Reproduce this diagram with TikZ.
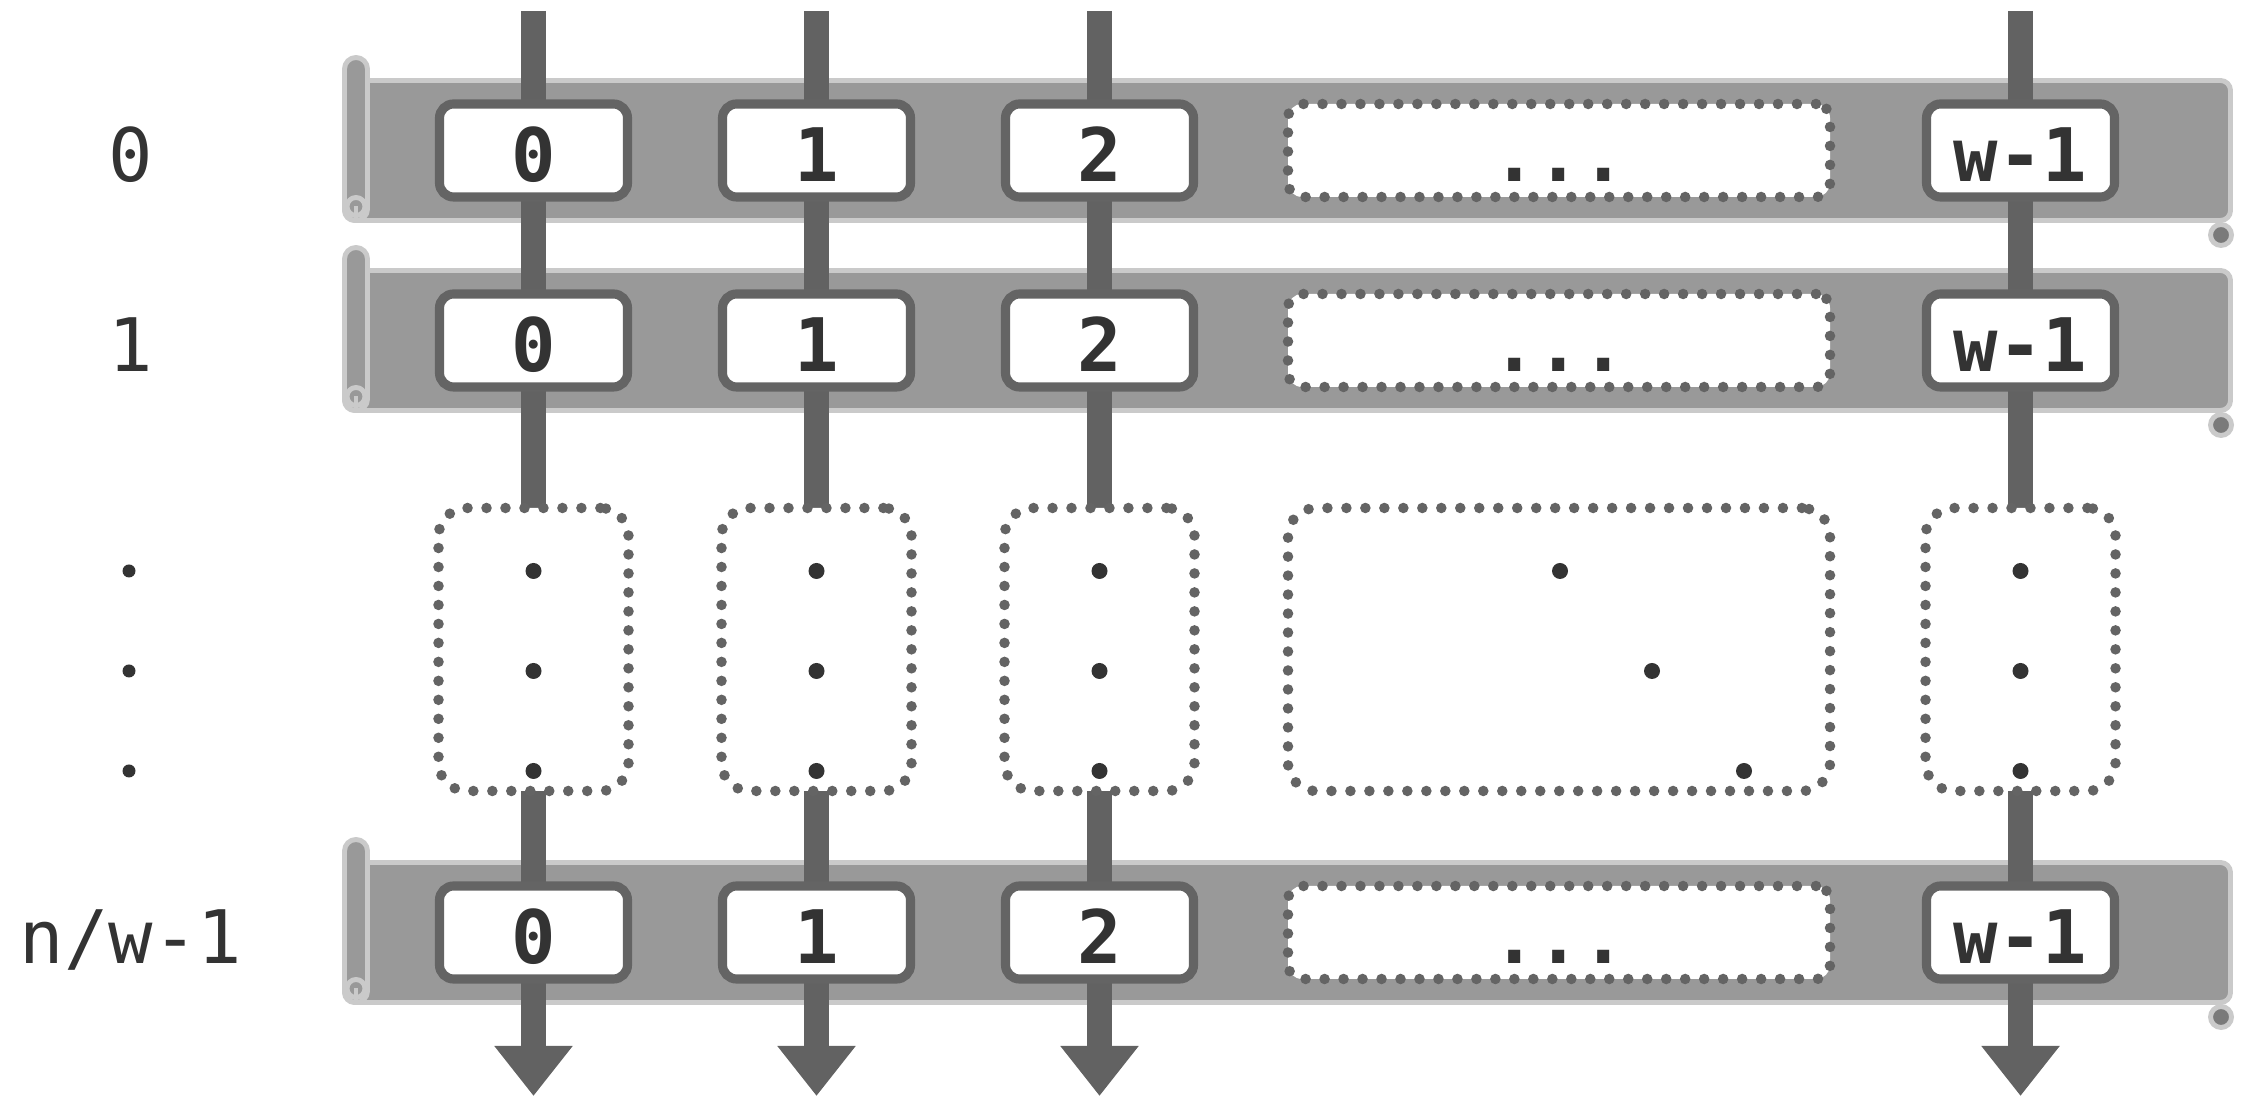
\documentclass[tikz,border=0pt]{standalone}
\usepackage{fontspec}
\setmonofont{DejaVu Sans Mono}
\usetikzlibrary{arrows.meta,backgrounds}
\definecolor{bandgray}{RGB}{153,153,153}
\definecolor{bandrim}{RGB}{202,202,202}
\definecolor{bargray}{RGB}{98,98,98}
\definecolor{cellrim}{RGB}{100,100,100}
\definecolor{inkgray}{RGB}{51,51,51}
\tikzset{
    % one word of a row
    cell/.style={
        rectangle, rounded corners=4pt, draw=cellrim, fill=white,
        line width=2.6pt, minimum width=1.88cm, minimum height=0.93cm,
        inner sep=0pt, text height=0.62cm, text depth=0pt, text=inkgray,
        font=\fontsize{21}{25}\selectfont\ttfamily\bfseries
    },
    % dotted placeholders
    dotcell/.style={cell, line width=3pt, dash pattern=on 0pt off 5.4pt, line cap=round},
    gapbox/.style={dotcell, rounded corners=8pt, minimum width=1.9cm, minimum height=2.83cm},
    rowlabel/.style={
        text=inkgray, inner sep=0pt, text height=0.62cm, text depth=0pt,
        font=\fontsize{21}{25}\selectfont\ttfamily
    },
    bar/.style={line width=0.25cm, bargray, -{Triangle[width=0.75cm,length=0.5cm]}},
    bandbody/.style={draw=bandrim, fill=bandgray, line width=1.4pt},
    % scroll shaped row band
    scrollband/.pic={
        \path[bandbody, rounded corners=0.1cm] (3.445,-0.70) rectangle (22.305,0.70);
        \path[bandbody, rounded corners=0.115cm] (3.445,-0.70) rectangle (3.675,0.93);
        \path[bandbody] (3.56,-0.56) circle (0.09);
        \draw[bandrim, line width=1.4pt] (3.56,-0.56) -- (3.56,-0.70);
        \path[bandbody, fill=bandgray!80!black] (22.21,-0.845) circle (0.105);
    },
}

\begin{document}
\begin{tikzpicture}
  \useasboundingbox (0,0) rectangle (22.58,11.09);

  % row labels
  \node[rowlabel] (lab0) at (1.31,9.585) {0};
  \node[rowlabel] (lab1) at (1.31,7.685) {1};
  \node[rowlabel] (lab2) at (1.31,1.765) {n/w-1};
  \fill[inkgray] (1.29,5.38) circle (0.065);
  \fill[inkgray] (1.29,4.38) circle (0.065);
  \fill[inkgray] (1.29,3.38) circle (0.065);

  % row 0
  \node[cell] (r0c0) at (5.335,9.585) {0};
  \node[cell] (r0c1) at (8.165,9.585) {1};
  \node[cell] (r0c2) at (10.995,9.585) {2};
  \node[dotcell, minimum width=5.42cm] (r0dots) at (15.59,9.585) {...};
  \node[cell] (r0last) at (20.205,9.585) {w-1};

  % row 1
  \node[cell] (r1c0) at (5.335,7.685) {0};
  \node[cell] (r1c1) at (8.165,7.685) {1};
  \node[cell] (r1c2) at (10.995,7.685) {2};
  \node[dotcell, minimum width=5.42cm] (r1dots) at (15.59,7.685) {...};
  \node[cell] (r1last) at (20.205,7.685) {w-1};

  % skipped rows
  \node[gapbox] (g0) at (5.335,4.595) {};
  \node[gapbox] (g1) at (8.165,4.595) {};
  \node[gapbox] (g2) at (10.995,4.595) {};
  \node[gapbox, minimum width=5.42cm] (gdots) at (15.59,4.595) {};
  \node[gapbox] (glast) at (20.205,4.595) {};
  \foreach \x in {5.335,8.165,10.995,20.205}
    \foreach \y in {5.38,4.38,3.38}
      \fill[inkgray] (\x,\y) circle (0.08);
  \fill[inkgray] (15.60,5.38) circle (0.08);
  \fill[inkgray] (16.52,4.38) circle (0.08);
  \fill[inkgray] (17.44,3.38) circle (0.08);

  % last row
  \node[cell] (r2c0) at (5.335,1.765) {0};
  \node[cell] (r2c1) at (8.165,1.765) {1};
  \node[cell] (r2c2) at (10.995,1.765) {2};
  \node[dotcell, minimum width=5.42cm] (r2dots) at (15.59,1.765) {...};
  \node[cell] (r2last) at (20.205,1.765) {w-1};

  \begin{scope}[on background layer]
    \pic at (0,9.585) {scrollband};
    \pic at (0,7.685) {scrollband};
    \pic at (0,1.765) {scrollband};
    % columns run top to bottom
    \foreach \x/\n in {5.335/0,8.165/1,10.995/2,20.205/3} {
      \coordinate (top\n) at (\x,10.98);
      \coordinate (bot\n) at (\x,0.13);
      \draw[bar] (top\n) -- (bot\n);
    }
  \end{scope}
\end{tikzpicture}
\end{document}
